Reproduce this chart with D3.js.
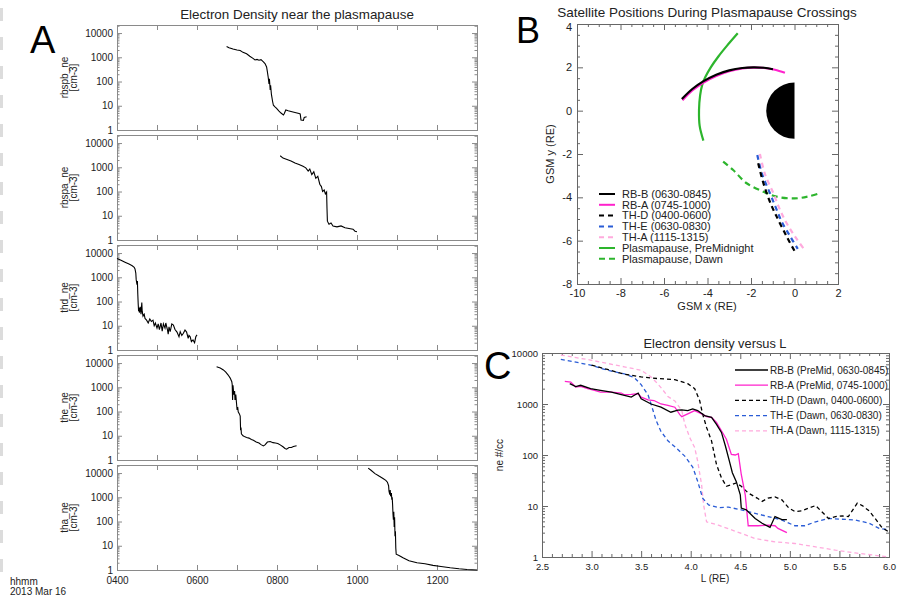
<!DOCTYPE html>
<html>
<head>
<meta charset="utf-8">
<script src="https://cdn.jsdelivr.net/npm/d3@7"></script>
<style>
body{margin:0;background:#fff}
svg{display:block}
</style>
</head>
<body>
<svg id="chart" width="899" height="598"></svg>
<script>

//=====================DATA=====================

// panel A : time (decimal hour) vs electron density
const panelNames = ['rbspb_ne', 'rbspa_ne', 'thd_ne', 'the_ne', 'tha_ne'];

const rbspbNe = [[6.74,2800],[6.8,2500],[6.9,2200],[7.0,2000],[7.08,1900],[7.15,1600],[7.24,1400],[7.32,1100],[7.4,900],[7.45,780],[7.5,820],[7.55,760],[7.6,800],[7.66,650],[7.7,550],[7.74,400],[7.76,250],[7.78,150],[7.8,80],[7.81,130],[7.83,45],[7.84,70],[7.86,30],[7.87,24],[7.89,15],[7.91,10.5],[7.95,9],[7.99,7.8],[8.05,6],[8.1,5],[8.16,4.2],[8.18,4.7],[8.22,6.7],[8.28,6.2],[8.35,5.8],[8.45,5.3],[8.55,4.8],[8.58,4.6],[8.6,2.6],[8.66,2.5],[8.68,3.3],[8.74,3.5]];
const rbspaNe = [[8.08,3000],[8.15,2400],[8.25,2100],[8.35,1800],[8.45,1500],[8.55,1300],[8.65,1100],[8.72,950],[8.78,700],[8.82,850],[8.87,500],[8.92,650],[8.97,350],[9.02,420],[9.07,200],[9.11,160],[9.14,100],[9.18,115],[9.21,80],[9.24,95],[9.25,20],[9.26,6],[9.3,4.5],[9.35,5],[9.4,3.8],[9.5,3.5],[9.6,3.8],[9.7,3.2],[9.8,3.0],[9.9,2.8],[9.95,2.3],[10.0,2.2]];
const thdNe = [[4.0,6000],[4.1,5000],[4.2,4200],[4.3,3500],[4.38,3000],[4.43,2600],[4.45,2200],[4.47,1500],[4.48,800],[4.5,500],[4.51,700],[4.52,200],[4.53,80],[4.54,40],[4.55,55],[4.56,35],[4.58,60],[4.6,30],[4.62,90],[4.63,40],[4.65,25],[4.68,30],[4.7,20],[4.74,17],[4.78,13],[4.82,19],[4.86,15],[4.9,17],[4.93,10],[4.96,13],[5.0,8],[5.03,12],[5.06,7],[5.1,13],[5.13,6],[5.16,12],[5.2,8],[5.22,13],[5.26,7],[5.28,4.5],[5.3,9],[5.33,5.7],[5.37,12],[5.41,10.7],[5.45,7],[5.5,5.5],[5.55,3.5],[5.58,5.7],[5.62,4],[5.66,4.9],[5.7,6.7],[5.74,5.5],[5.78,3],[5.8,4],[5.83,3.5],[5.86,2.2],[5.9,2.6],[5.94,2],[5.97,3.5],[6.0,4.2]];
const theNe = [[6.49,7000],[6.58,6200],[6.66,5200],[6.72,4200],[6.78,3200],[6.83,2400],[6.87,1700],[6.88,1300],[6.89,300],[6.9,1200],[6.92,500],[6.94,700],[6.95,300],[6.97,500],[6.99,200],[7.0,130],[7.02,140],[7.03,98],[7.06,80],[7.08,65],[7.09,17],[7.1,22],[7.11,12],[7.15,10],[7.2,9],[7.24,8.5],[7.3,8],[7.36,7],[7.41,6.5],[7.48,5.5],[7.55,5],[7.6,4.3],[7.66,3.8],[7.7,4.2],[7.76,5.5],[7.83,5.8],[7.9,5.2],[7.96,5],[8.02,4.8],[8.08,4.2],[8.15,3.5],[8.2,3],[8.24,2.8],[8.3,3.3],[8.36,3.3],[8.41,3.6],[8.49,3.9]];
const thaNe = [[10.28,16000],[10.35,13000],[10.45,9500],[10.55,7500],[10.65,6000],[10.72,5000],[10.76,4200],[10.79,3000],[10.8,1800],[10.82,1300],[10.83,2000],[10.84,1100],[10.86,1500],[10.87,800],[10.88,1000],[10.89,500],[10.9,200],[10.91,120],[10.92,250],[10.93,60],[10.94,150],[10.95,25],[10.96,40],[10.97,8],[10.98,4.5],[11.05,4],[11.15,3.2],[11.3,2.4],[11.5,2],[11.7,1.8],[11.9,1.55],[12.1,1.4],[12.33,1.23],[12.55,1.12],[12.75,1.05],[13.0,1.0]];
const panelSeries = [rbspbNe, rbspaNe, thdNe, theNe, thaNe];

const hourTicks = [4,5,6,7,8,9,10,11,12,13];
const hourLabels = [4,6,8,10,12];
const densityTicks = [1,10,100,1000,10000];

// panel B : GSM x / y positions (RE)
const rbbTrack = [[-5.18,0.54],[-4.7,1.0],[-4.2,1.35],[-3.6,1.66],[-3.0,1.86],[-2.4,1.97],[-1.9,2.0],[-1.4,1.98],[-0.99,1.91]];
const rbaTrack = [[-5.15,0.48],[-4.7,0.93],[-4.2,1.29],[-3.6,1.6],[-3.0,1.82],[-2.4,1.95],[-1.9,1.99],[-1.4,1.97],[-0.9,1.89],[-0.44,1.75]];
const thdTrack = [[-1.67,-2.43],[-1.5,-3.1],[-1.28,-3.81],[-1.05,-4.4],[-0.82,-4.89],[-0.36,-5.81],[0.02,-6.51]];
const theTrack = [[-1.71,-2.05],[-1.5,-2.9],[-1.13,-3.81],[-0.85,-4.5],[-0.59,-5.12],[-0.2,-5.8],[0.15,-6.38]];
const thaTrack = [[-1.59,-2.0],[-1.35,-2.95],[-0.97,-3.81],[-0.7,-4.5],[-0.36,-5.2],[0.05,-5.85],[0.41,-6.35]];
const ppPreMid = [[-2.61,3.57],[-3.1,3.0],[-3.5,2.5],[-3.85,2.0],[-4.1,1.55],[-4.24,1.2],[-4.34,0.7],[-4.39,0.03],[-4.36,-0.7],[-4.19,-1.38]];
const ppDawn = [[-3.28,-2.35],[-2.82,-2.74],[-2.2,-3.35],[-1.43,-3.74],[-0.82,-3.97],[0,-4.05],[0.6,-3.97],[1.17,-3.81]];
const earthRadius = 1.3;

const gsmTicks = [-10,-8,-6,-4,-2,0,2];
const gsmYTicks = [-8,-6,-4,-2,0,2,4];

// panel C : L vs ne
const rbbL = [[2.78,2500],[2.84,2200],[2.89,2330],[2.99,2000],[3.09,1850],[3.2,1710],[3.3,1520],[3.4,1365],[3.47,1640],[3.5,1265],[3.6,1000],[3.7,865],[3.8,690],[3.87,760],[3.91,767],[3.97,743],[4.02,801],[4.07,743],[4.14,592],[4.21,548],[4.26,400],[4.31,277],[4.35,150],[4.39,76],[4.42,45],[4.46,30],[4.5,16.6],[4.51,9.1],[4.56,8.4],[4.65,5.7],[4.72,4.6],[4.8,3.8],[4.85,6.2],[4.92,5.4],[4.97,5.4]];
const rbaL = [[2.73,2790],[2.79,2700],[2.84,2150],[2.89,2220],[2.96,2000],[3.03,1850],[3.09,1710],[3.2,1710],[3.3,1640],[3.33,1520],[3.4,1545],[3.47,1590],[3.5,1365],[3.57,1210],[3.63,1170],[3.7,1000],[3.77,935],[3.84,865],[3.89,620],[3.91,565],[3.97,640],[4.04,743],[4.11,640],[4.16,565],[4.21,548],[4.26,437],[4.31,299],[4.36,204],[4.41,103],[4.45,100],[4.48,106],[4.51,41.5],[4.55,16.6],[4.58,4.1],[4.68,4.1],[4.78,4.2],[4.85,4.1],[4.88,3.64],[4.97,3.0]];
const thdL = [[3.0,5800],[3.16,4750],[3.33,3840],[3.5,3400],[3.67,3150],[3.84,3010],[3.97,2500],[4.04,2000],[4.09,1170],[4.12,640],[4.16,347],[4.21,189],[4.26,65],[4.31,35.5],[4.36,24.3],[4.41,26.2],[4.46,28.3],[4.51,24.3],[4.58,18],[4.67,14.3],[4.72,12.3],[4.78,14.3],[4.85,15],[4.92,13.2],[4.99,9.1],[5.05,7.8],[5.12,8],[5.19,9.1],[5.26,10.2],[5.32,7.8],[5.39,5.7],[5.46,6.2],[5.53,6.4],[5.59,6.2],[5.68,11.4],[5.73,10.2],[5.8,8],[5.86,5.7],[5.93,3.75],[6.0,3.1]];
const theL = [[2.69,7500],[2.82,6730],[2.99,5780],[3.16,4600],[3.33,3900],[3.43,3300],[3.5,2400],[3.57,1500],[3.6,1000],[3.65,480],[3.7,290],[3.77,190],[3.84,145],[3.94,95],[4.02,58],[4.07,30.6],[4.12,14.3],[4.18,10.5],[4.28,9.3],[4.38,9.5],[4.51,8.4],[4.65,7.2],[4.78,6.2],[4.92,5.3],[5.05,4.1],[5.15,4.1],[5.26,4.9],[5.39,5.7],[5.53,5.5],[5.66,5.3],[5.8,4.6],[5.9,3.64],[6.0,3.4]];
const thaL = [[2.69,9130],[2.99,7270],[3.33,5360],[3.5,4600],[3.6,3400],[3.65,2700],[3.7,2100],[3.77,1400],[3.84,1150],[3.91,743],[3.94,405],[3.99,220],[4.04,140],[4.07,76],[4.11,26],[4.13,10.5],[4.16,4.9],[4.28,4.2],[4.51,2.9],[4.65,2.3],[4.85,1.98],[5.05,1.84],[5.26,1.58],[5.46,1.36],[5.66,1.2],[5.86,1.08],[6.0,1.0]];

const lTicks = [2.5,3.0,3.5,4.0,4.5,5.0,5.5,6.0];

// legends
const legendB = [
	{label:'RB-B (0630-0845)', color:'#000000', dash:null},
	{label:'RB-A (0745-1000)', color:'#ff22cc', dash:null},
	{label:'TH-D (0400-0600)', color:'#000000', dash:'5,4'},
	{label:'TH-E (0630-0830)', color:'#2a5cd6', dash:'5,4'},
	{label:'TH-A (1115-1315)', color:'#ffaadd', dash:'5,4'},
	{label:'Plasmapause, PreMidnight', color:'#2db52d', dash:null},
	{label:'Plasmapause, Dawn', color:'#2db52d', dash:'6,4'}
];
const legendC = [
	{label:'RB-B (PreMid, 0630-0845)', color:'#000000', dash:null},
	{label:'RB-A (PreMid, 0745-1000)', color:'#ff22cc', dash:null},
	{label:'TH-D (Dawn, 0400-0600)', color:'#000000', dash:'4,3'},
	{label:'TH-E (Dawn, 0630-0830)', color:'#2a5cd6', dash:'4,3'},
	{label:'TH-A (Dawn, 1115-1315)', color:'#ffaadd', dash:'4,3'}
];

//=====================HELPERS=====================

const fontFam = '"Liberation Sans", Arial, Helvetica, sans-serif';
const svg = d3.select('#chart').attr('font-family', fontFam);

svg.append('rect').attr('width', 899).attr('height', 598).attr('fill', '#fff');

// faint scan marks on the left edge
svg.append('g')
.selectAll('rect')
.data(d3.range(8, 570, 29))
.enter()
.append('rect')
.attr('x', 0).attr('y', d => d).attr('width', 3).attr('height', 13)
.attr('fill', '#dcdcdc');

const logMinor = (max) => {
	let out = [];
	for(let p = 1; p <= max; p *= 10)
	{
		for(let m = 2; m <= 9; m++) if(m * p <= max) out.push(m * p);
	}
	return out;
}

const drawFrame = (g, x, y, o) => {

	const [xl, xr] = x.range();
	const [yb, yt] = y.range();

	const side = (axisFn, scale, vals, len, fmt, tx, ty, pad) => {
		const a = axisFn(scale).tickValues(vals).tickSize(-len).tickPadding(pad || 4).tickFormat(fmt || '');
		const s = g.append('g')
		.attr('transform', `translate(${tx},${ty})`)
		.call(a)
		.attr('font-family', fontFam)
		.attr('font-size', o.fontSize);
		s.select('.domain').remove();
		s.selectAll('line').attr('stroke', o.color);
		s.selectAll('text').attr('fill', '#222');
		return s;
	}

	side(d3.axisBottom, x, o.xMajor, o.majorLen, o.xFmt, 0, yb, o.xPad);
	side(d3.axisBottom, x, o.xMinor, o.minorLen, null, 0, yb);
	side(d3.axisTop, x, o.xMajor, o.majorLen, null, 0, yt);
	side(d3.axisTop, x, o.xMinor, o.minorLen, null, 0, yt);
	const left = side(d3.axisLeft, y, o.yMajor, o.majorLen, o.yFmt, xl, 0, o.yPad);
	side(d3.axisLeft, y, o.yMinor, o.minorLen, null, xl, 0);
	side(d3.axisRight, y, o.yMajor, o.majorLen, null, xr, 0);
	side(d3.axisRight, y, o.yMinor, o.minorLen, null, xr, 0);

	g.append('rect')
	.attr('x', xl + 0.5).attr('y', yt + 0.5)
	.attr('width', xr - xl).attr('height', yb - yt)
	.attr('fill', 'none')
	.attr('stroke', o.color);

	return left;
}

const bigLetter = (txt, x, y, size) => {
	svg.append('text').text(txt)
	.attr('x', x).attr('y', y)
	.attr('font-size', size)
	.attr('fill', '#000');
}

const drawLegend = (items, x0, x1, tx, y0, dy, width, fontSize) => {
	const g = svg.append('g');
	items.forEach((d, i) => {
		const y = y0 + i * dy;
		g.append('line')
		.attr('x1', x0).attr('x2', x1).attr('y1', y).attr('y2', y)
		.attr('stroke', d.color).attr('stroke-width', width)
		.attr('stroke-dasharray', d.dash);
		g.append('text').text(d.label)
		.attr('x', tx).attr('y', y)
		.attr('dy', '0.35em')
		.attr('font-size', fontSize)
		.attr('fill', '#222');
	});
}

//=====================PANEL A=====================

const hourFmt = d => hourLabels.includes(d) ? String(d * 100).padStart(4, '0') : '';
const xTime = d3.scaleLinear().domain([4, 13]).range([117, 477]);
const aTops = [25, 135, 245, 355, 465];
const aHeight = 105;

svg.append('text').text('Electron Density near the plasmapause')
.attr('x', 297).attr('y', 19)
.attr('text-anchor', 'middle')
.attr('font-size', 13.4)
.attr('fill', '#222');

panelNames.forEach((name, i) => {

	const top = aTops[i];
	const y = d3.scaleLog().domain([1, 21500]).range([top + aHeight, top]);
	const g = svg.append('g');

	drawFrame(g, xTime, y, {
		xMajor: hourTicks, xMinor: [], yMajor: densityTicks, yMinor: logMinor(21500),
		majorLen: 5, minorLen: 2.5, color: '#8a8a8a', fontSize: 10,
		xFmt: i === panelNames.length - 1 ? hourFmt : null, xPad: 7,
		yFmt: d3.format('d'), yPad: 4
	});

	g.append('path')
	.datum(panelSeries[i])
	.attr('d', d3.line().x(d => xTime(d[0])).y(d => y(d[1])))
	.attr('fill', 'none')
	.attr('stroke', '#000')
	.attr('stroke-width', 1.1);

	const cy = top + aHeight / 2;
	g.append('text').text(name)
	.attr('transform', `translate(68,${cy}) rotate(-90)`)
	.attr('text-anchor', 'middle')
	.attr('font-size', 10).attr('fill', '#222');
	g.append('text').text('[cm-3]')
	.attr('transform', `translate(77,${cy}) rotate(-90)`)
	.attr('text-anchor', 'middle')
	.attr('font-size', 10).attr('fill', '#222');
});

svg.append('text').text('hhmm').attr('x', 10).attr('y', 585).attr('font-size', 10).attr('fill', '#222');
svg.append('text').text('2013 Mar 16').attr('x', 10).attr('y', 595).attr('font-size', 10).attr('fill', '#222');

bigLetter('A', 30, 53, 38);

//=====================PANEL B=====================

const xGsm = d3.scaleLinear().domain([-10, 2]).range([577, 838]);
const yGsm = d3.scaleLinear().domain([-8, 4]).range([284, 24]);
const gB = svg.append('g');

svg.append('text').text('Satellite Positions During Plasmapause Crossings')
.attr('x', 707).attr('y', 17)
.attr('text-anchor', 'middle')
.attr('font-size', 13.5)
.attr('fill', '#222');

const leftB = drawFrame(gB, xGsm, yGsm, {
	xMajor: gsmTicks, xMinor: d3.range(-10, 2.01, 0.5).filter(v => v % 2 !== 0),
	yMajor: gsmYTicks, yMinor: d3.range(-8, 4.01, 0.5).filter(v => v % 2 !== 0),
	majorLen: 6, minorLen: 3, color: '#666', fontSize: 11,
	xFmt: d => String(d), xPad: 5, yFmt: d => String(d), yPad: 5
});
// top label sits a little below its tick, as in the original
leftB.selectAll('.tick text').filter(d => d === 4).attr('dy', '0.62em');

// night side of the Earth
gB.append('path')
.attr('d', `M${xGsm(0)},${yGsm(earthRadius)} A${xGsm(0) - xGsm(-earthRadius)},${yGsm(0) - yGsm(earthRadius)} 0 0 0 ${xGsm(0)},${yGsm(-earthRadius)} Z`)
.attr('fill', '#000');

const gsmLine = d3.line().x(d => xGsm(d[0])).y(d => yGsm(d[1])).curve(d3.curveCatmullRom);

const tracksB = [
	{data: ppPreMid, color:'#2db52d', dash:null},
	{data: ppDawn, color:'#2db52d', dash:'6,4'},
	{data: rbaTrack, color:'#ff22cc', dash:null},
	{data: rbbTrack, color:'#000000', dash:null},
	{data: thaTrack, color:'#ffaadd', dash:'5,4'},
	{data: theTrack, color:'#2a5cd6', dash:'5,4'},
	{data: thdTrack, color:'#000000', dash:'5,4'}
];

tracksB.forEach(t => {
	gB.append('path')
	.datum(t.data)
	.attr('d', gsmLine)
	.attr('fill', 'none')
	.attr('stroke', t.color)
	.attr('stroke-width', 2.2)
	.attr('stroke-dasharray', t.dash);
});

gB.append('text').text('GSM x (RE)')
.attr('x', 707).attr('y', 310)
.attr('text-anchor', 'middle')
.attr('font-size', 11).attr('fill', '#222');
gB.append('text').text('GSM y (RE)')
.attr('transform', `translate(554,154) rotate(-90)`)
.attr('text-anchor', 'middle')
.attr('font-size', 11).attr('fill', '#222');

drawLegend(legendB, 599, 615, 622, 194, 10.8, 2, 11);

bigLetter('B', 516, 43, 36);

//=====================PANEL C=====================

const xL = d3.scaleLinear().domain([2.5, 6]).range([542, 889]);
const yNe = d3.scaleLog().domain([1, 10000]).range([557, 353]);
const gC = svg.append('g');

svg.append('text').text('Electron density versus L')
.attr('x', 715).attr('y', 348)
.attr('text-anchor', 'middle')
.attr('font-size', 12.8)
.attr('fill', '#222');

drawFrame(gC, xL, yNe, {
	xMajor: lTicks, xMinor: d3.range(25, 61).map(v => v / 10).filter(v => Math.round(v * 10) % 5 !== 0),
	yMajor: densityTicks, yMinor: logMinor(10000),
	majorLen: 6, minorLen: 3, color: '#666', fontSize: 9.5,
	xFmt: d3.format('.1f'), xPad: 6, yFmt: d3.format('d'), yPad: 4
});

const lLine = d3.line().x(d => xL(d[0])).y(d => yNe(d[1]));

const tracksC = [
	{data: thaL, color:'#ffaadd', dash:'4,3'},
	{data: theL, color:'#2a5cd6', dash:'4,3'},
	{data: thdL, color:'#000000', dash:'4,3'},
	{data: rbaL, color:'#ff22cc', dash:null},
	{data: rbbL, color:'#000000', dash:null}
];

tracksC.forEach(t => {
	gC.append('path')
	.datum(t.data)
	.attr('d', lLine)
	.attr('fill', 'none')
	.attr('stroke', t.color)
	.attr('stroke-width', 1.3)
	.attr('stroke-dasharray', t.dash);
});

gC.append('text').text('L (RE)')
.attr('x', 715).attr('y', 582)
.attr('text-anchor', 'middle')
.attr('font-size', 10).attr('fill', '#222');
gC.append('text').text('ne #/cc')
.attr('transform', `translate(503,455) rotate(-90)`)
.attr('text-anchor', 'middle')
.attr('font-size', 10).attr('fill', '#222');

drawLegend(legendC, 735, 768, 770, 370, 15.2, 1.3, 10);

bigLetter('C', 484, 379, 38);

</script>
</body>
</html>
